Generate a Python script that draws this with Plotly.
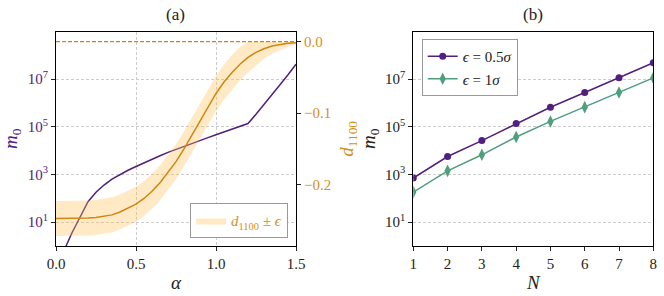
import plotly.graph_objects as go

# ---------------- data ----------------
# panel (a): m0 vs alpha (purple, left log axis)
alpha_m0 = [0.05, 0.10, 0.15, 0.20, 0.25, 0.30, 0.35, 0.40, 0.45, 0.50,
            0.55, 0.60, 0.65, 0.70, 0.75, 0.80, 0.85, 0.90, 0.95, 1.00,
            1.05, 1.10, 1.15, 1.20, 1.25, 1.30, 1.35, 1.40, 1.45, 1.50]
m0_alpha = [0.63, 3.55, 15.8, 70.8, 178, 355, 631, 1000, 1480, 2140,
            3090, 4370, 6030, 8320, 11200, 15100, 19950, 26300, 34700, 45700,
            60300, 79400, 102000, 135000, 331000, 832000, 2.14e6, 5.75e6, 1.51e7, 4.17e7]

# panel (a): d1100 vs alpha (orange, right axis) with band
alpha_d = [0.00, 0.05, 0.10, 0.15, 0.20, 0.25, 0.30, 0.35, 0.40, 0.45,
           0.50, 0.55, 0.60, 0.65, 0.70, 0.75, 0.80, 0.85, 0.90, 0.95,
           1.00, 1.05, 1.10, 1.15, 1.20, 1.25, 1.30, 1.35, 1.40, 1.45, 1.50]
d1100 = [-0.2475, -0.2475, -0.2475, -0.2474, -0.2470, -0.2462, -0.2445, -0.2425, -0.2385, -0.2335,
         -0.2275, -0.2195, -0.2095, -0.1975, -0.1835, -0.1680, -0.1500, -0.1310, -0.1115, -0.0915,
         -0.0725, -0.0565, -0.0430, -0.0315, -0.0220, -0.0150, -0.0098, -0.0060, -0.0036, -0.0022, -0.0014]
d1100_upper = [-0.2230, -0.2230, -0.2230, -0.2229, -0.2225, -0.2217, -0.2200, -0.2180, -0.2140, -0.2090,
               -0.2030, -0.1950, -0.1850, -0.1730, -0.1590, -0.1435, -0.1255, -0.1065, -0.0870, -0.0670,
               -0.0480, -0.0320, -0.0185, -0.0070, 0.0, 0.0, 0.0, 0.0, 0.0, 0.0, 0.0]
d1100_lower = [-0.2720, -0.2720, -0.2720, -0.2719, -0.2715, -0.2707, -0.2690, -0.2670, -0.2630, -0.2580,
               -0.2520, -0.2440, -0.2340, -0.2220, -0.2080, -0.1925, -0.1745, -0.1555, -0.1360, -0.1160,
               -0.0970, -0.0810, -0.0670, -0.0545, -0.0430, -0.0330, -0.0238, -0.0170, -0.0116, -0.0072, -0.0034]
ref_alpha = [0.0, 1.5]
ref_level = [0.0, 0.0]

# panel (b): m0 vs N
N_vals = [1, 2, 3, 4, 5, 6, 7, 8]
m0_eps05 = [7.0e2, 5.6e3, 2.6e4, 1.35e5, 6.5e5, 2.7e6, 1.12e7, 4.8e7]
m0_eps1 = [1.8e2, 1.4e3, 6.6e3, 3.7e4, 1.66e5, 6.6e5, 2.7e6, 1.12e7]

# ticks
log_tickvals = [1e1, 1e3, 1e5, 1e7]
log_ticktext = ["10<sup>1</sup>", "10<sup>3</sup>", "10<sup>5</sup>", "10<sup>7</sup>"]
d_tickvals = [0.0, -0.1, -0.2]
d_ticktext = ["0.0", "\u22120.1", "\u22120.2"]
alpha_tickvals = [0.0, 0.5, 1.0, 1.5]
alpha_ticktext = ["0.0", "0.5", "1.0", "1.5"]
N_tickvals = [1, 2, 3, 4, 5, 6, 7, 8]

# ---------------- style ----------------
PURPLE = "#51207f"
GREEN = "#4f9f7d"
ORANGE = "#cf8613"
ORANGE_TXT = "#d4901c"
BAND = "rgba(255,190,80,0.33)"
GRID = "#cccccc"
GRID_DASH = "3px,2px"
FONT = "Liberation Serif"
W, H = 664, 296

def px_x(x):
    return x / W

def px_y(y):
    return 1 - y / H

xdomL = [px_x(56), px_x(296)]
xdomR = [px_x(413.3), px_x(653.3)]
ydom = [px_y(246), px_y(31.7)]

fig = go.Figure()

fig.add_trace(go.Scatter(x=alpha_m0, y=m0_alpha, mode="lines", line=dict(color=PURPLE, width=1.5),
                         xaxis="x", yaxis="y", showlegend=False))
fig.add_trace(go.Scatter(x=alpha_d, y=d1100_lower, mode="lines", line=dict(width=0),
                         xaxis="x", yaxis="y2", showlegend=False, hoverinfo="skip"))
fig.add_trace(go.Scatter(x=alpha_d, y=d1100_upper, mode="lines", line=dict(width=0),
                         fill="tonexty", fillcolor=BAND, xaxis="x", yaxis="y2",
                         name="<i>d</i><sub>1100</sub> ± <i>ϵ</i>", legend="legend"))
fig.add_trace(go.Scatter(x=ref_alpha, y=ref_level, mode="lines", line=dict(color=ORANGE, width=1.2, dash="4px,2px"),
                         xaxis="x", yaxis="y2", showlegend=False))
fig.add_trace(go.Scatter(x=alpha_d, y=d1100, mode="lines", line=dict(color=ORANGE, width=1.5),
                         xaxis="x", yaxis="y2", showlegend=False))

fig.add_trace(go.Scatter(x=N_vals, y=m0_eps05, mode="lines+markers",
                         line=dict(color=PURPLE, width=1.5), marker=dict(symbol="circle", size=7, color=PURPLE),
                         xaxis="x2", yaxis="y3", name="<i>ϵ</i> = 0.5<i>σ</i>", legend="legend2"))
fig.add_trace(go.Scatter(x=N_vals, y=m0_eps1, mode="lines+markers",
                         line=dict(color=GREEN, width=1.5), marker=dict(symbol="diamond-tall", size=9, color=GREEN),
                         xaxis="x2", yaxis="y3", name="<i>ϵ</i> = 1<i>σ</i>", legend="legend2"))

tickfont = dict(family=FONT, size=15, color="#222")
common_axis = dict(showline=True, linecolor="black", linewidth=1.2, ticks="outside", ticklen=4,
                   tickcolor="#222", zeroline=False, automargin=False)

fig.update_layout(
    template="none",
    width=W, height=H,
    margin=dict(l=0, r=0, t=0, b=0, autoexpand=False),
    paper_bgcolor="white", plot_bgcolor="white",
    font=dict(family=FONT, size=15, color="#222"),
    xaxis=dict(domain=xdomL, anchor="y", range=[0, 1.5], tickvals=alpha_tickvals, ticktext=alpha_ticktext,
               showgrid=True, gridcolor=GRID, griddash=GRID_DASH, gridwidth=0.8, mirror=True,
               tickfont=tickfont, title=dict(text="<i>α</i>", font=dict(family=FONT, size=19), standoff=4),
               **common_axis),
    yaxis=dict(domain=ydom, anchor="x", type="log", range=[-0.007, 8.985], tickvals=log_tickvals,
               ticktext=log_ticktext, showgrid=True, gridcolor=GRID, griddash=GRID_DASH, gridwidth=0.8,
               tickfont=dict(family=FONT, size=15, color=PURPLE),
               title=dict(text="<i>m</i><sub>0</sub>", font=dict(family=FONT, size=19, color=PURPLE), standoff=4),
               **common_axis),
    yaxis2=dict(overlaying="y", anchor="x", side="right", range=[-0.2861, 0.0140], tickvals=d_tickvals,
                ticktext=d_ticktext, showgrid=False,
                tickfont=dict(family=FONT, size=15, color=ORANGE_TXT),
                title=dict(text="<i>d</i><sub>1100</sub>", font=dict(family=FONT, size=19, color=ORANGE_TXT), standoff=9),
                **common_axis),
    xaxis2=dict(domain=xdomR, anchor="y3", range=[1, 8], tickvals=N_tickvals, showgrid=False, mirror=True,
                tickfont=tickfont, title=dict(text="<i>N</i>", font=dict(family=FONT, size=19), standoff=4),
                **common_axis),
    yaxis3=dict(domain=ydom, anchor="x2", type="log", range=[-0.007, 8.985], tickvals=log_tickvals,
                ticktext=log_ticktext, showgrid=True, gridcolor=GRID, griddash=GRID_DASH, gridwidth=0.8, mirror=True,
                tickfont=tickfont,
                title=dict(text="<i>m</i><sub>0</sub>", font=dict(family=FONT, size=19), standoff=4),
                **common_axis),
    legend=dict(x=px_x(288), y=px_y(238.3), xanchor="right", yanchor="bottom", bgcolor="white",
                bordercolor="#999", borderwidth=1, font=dict(family=FONT, size=15, color=ORANGE_TXT)),
    legend2=dict(x=px_x(421.7), y=px_y(39), xanchor="left", yanchor="top", bgcolor="white",
                 bordercolor="#999", borderwidth=1, font=dict(family=FONT, size=15, color="#222"),
                 tracegroupgap=2),
    annotations=[
        dict(text="(a)", x=(xdomL[0] + xdomL[1]) / 2, y=px_y(15), xref="paper", yref="paper",
             xanchor="center", yanchor="middle",
             showarrow=False, font=dict(family=FONT, size=17, color="#222")),
        dict(text="(b)", x=(xdomR[0] + xdomR[1]) / 2, y=px_y(15), xref="paper", yref="paper",
             xanchor="center", yanchor="middle",
             showarrow=False, font=dict(family=FONT, size=17, color="#222")),
    ],
)

fig.write_html("out.html", config={"displayModeBar": False},
               post_script="document.body.style.margin='0';")
